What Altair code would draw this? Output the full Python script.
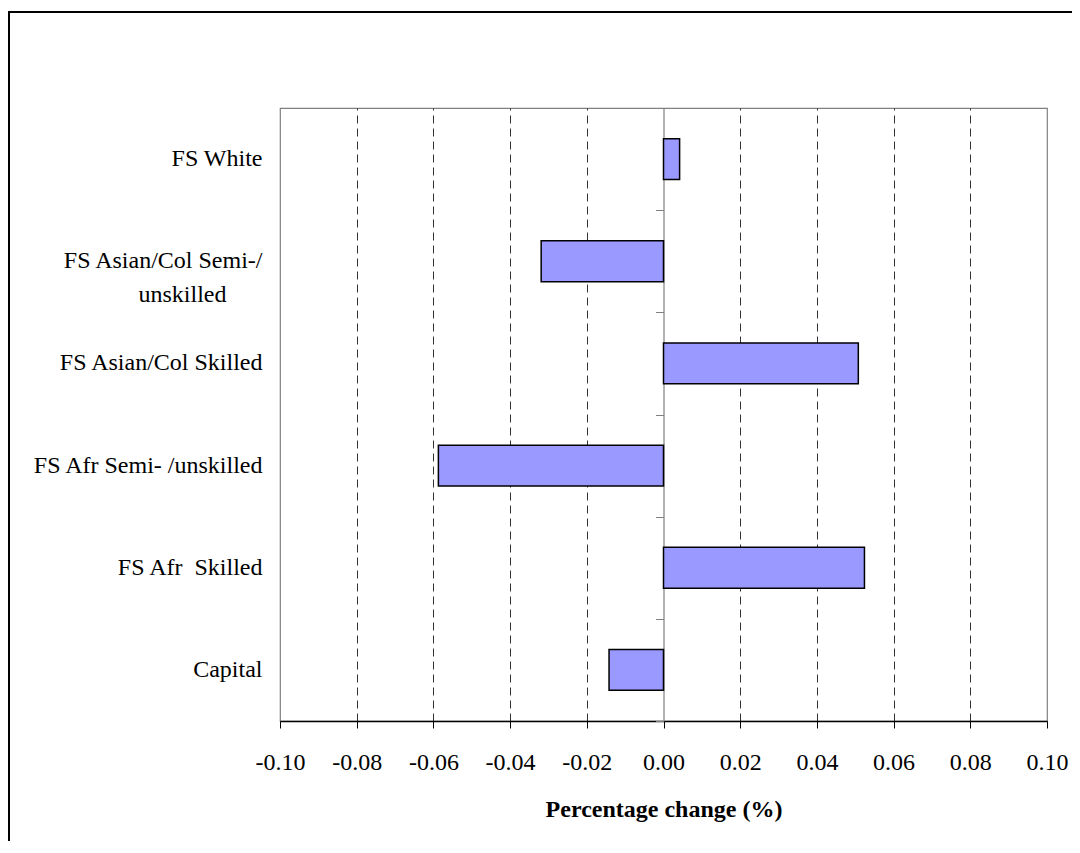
import altair as alt
import pandas as pd

NB = "\u00a0" * 6 + "\u200b"
categories = [
    "FS White",
    "FS Asian/Col Semi-/|unskilled" + NB,
    "FS Asian/Col Skilled",
    "FS Afr Semi- /unskilled",
    "FS Afr \u00a0Skilled",
    "Capital",
]
values = [0.0042, -0.0319, 0.0508, -0.0587, 0.0524, -0.0142]
x_ticks = [-0.10, -0.08, -0.06, -0.04, -0.02, 0.00, 0.02, 0.04, 0.06, 0.08, 0.10]
x_title = "Percentage change (%)"

df = pd.DataFrame({"category": categories, "value": values})

FONT = "Liberation Serif"
y_scale = alt.Scale(domain=categories, paddingInner=0.6, paddingOuter=0.3)
y_scale_edges = alt.Scale(domain=categories, paddingInner=0, paddingOuter=0)
x_scale = alt.Scale(domain=[-0.1, 0.1], nice=False, zero=False)

frame = alt.Chart(alt.Data(values=[{}])).mark_rect(
    fillOpacity=0, stroke="#000000", strokeWidth=2
).encode(
    x=alt.value(-271), x2=alt.value(900), y=alt.value(-96), y2=alt.value(800)
)

bars = alt.Chart(df).mark_bar(
    color="#9999FF", stroke="black", strokeWidth=1.5
).encode(
    x=alt.X(
        "value:Q",
        scale=x_scale,
        axis=alt.Axis(
            values=x_ticks,
            labelExpr="replace(format(datum.value, '.2f'), '\u2212', '-')",
            title=x_title,
            grid=True,
            gridDash=[8, 5],
            gridColor="#333333",
            gridOpacity=alt.condition(
                "abs(datum.value) > 0.099 || abs(datum.value) < 0.001",
                alt.value(0),
                alt.value(1),
            ),
            domainColor="black",
            domainWidth=1.5,
            tickColor="black",
            tickSize=7,
            labelFontSize=24,
            labelPadding=41,
            labelBaseline="alphabetic",
            labelFlush=False,
            labelOverlap=False,
            titleFontSize=24,
            titleFontWeight="bold",
            titleY=95,
            titleBaseline="alphabetic",
        ),
    ),
    y=alt.Y(
        "category:N",
        sort=categories,
        scale=y_scale,
        axis=alt.Axis(
            title=None,
            domain=False,
            ticks=False,
            tickSize=0,
            grid=False,
            labelPadding=18,
            labelFontSize=24,
            labelLineHeight=34,
            labelExpr="split(datum.label, '|')",
            labelAlign="right",
            labelLimit=0,
        ),
    ),
)

zero_axis = alt.Chart(df).mark_bar(opacity=0).encode(
    y=alt.Y(
        "category:N",
        sort=categories,
        scale=y_scale_edges,
        axis=alt.Axis(
            orient="left",
            offset=-383.5,
            labels=False,
            title=None,
            domain=True,
            domainColor="#808080",
            domainWidth=1.2,
            ticks=True,
            tickColor="#808080",
            tickSize=8,
            tickBand="extent",
            grid=False,
        ),
    ),
)

chart = alt.layer(frame, bars, zero_axis).resolve_scale(y="independent").resolve_axis(
    y="independent"
).properties(
    width=767,
    height=613,
    autosize=alt.AutoSizeParams(type="none"),
    padding={"left": 272, "top": 100, "right": 25, "bottom": 120},
).configure(
    font=FONT,
).configure_axis(
    labelFont=FONT,
    titleFont=FONT,
    labelColor="black",
    titleColor="black",
).configure_view(
    stroke="#808080", strokeWidth=1.2
)

chart.save("out.html", embed_options={"renderer": "svg", "actions": False})
